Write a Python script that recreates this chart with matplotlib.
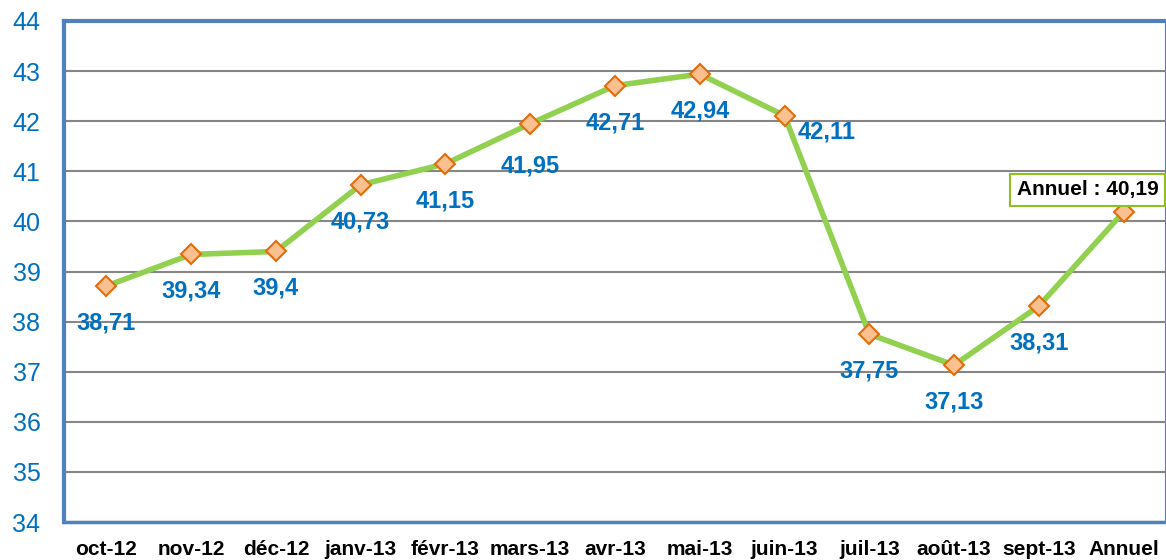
import matplotlib
matplotlib.use("Agg")
import matplotlib.pyplot as plt

plt.rcParams['font.family'] = ['Liberation Sans', 'DejaVu Sans']

categories = ["oct-12", "nov-12", "déc-12", "janv-13", "févr-13", "mars-13", "avr-13",
              "mai-13", "juin-13", "juil-13", "août-13", "sept-13", "Annuel"]
values = [38.71, 39.34, 39.40, 40.73, 41.15, 41.95, 42.71, 42.94, 42.11, 37.75, 37.13, 38.31, 40.19]
labels = ["38,71", "39,34", "39,4", "40,73", "41,15", "41,95", "42,71", "42,94", "42,11",
          "37,75", "37,13", "38,31", None]
yticks = [34, 35, 36, 37, 38, 39, 40, 41, 42, 43, 44]

W, H = 1166, 560
fig = plt.figure(figsize=(W / 100, H / 100), dpi=100)
ax = fig.add_axes([64 / W, 1 - 522 / H, (1166 - 64) / W, (522 - 21) / H])

x = list(range(len(categories)))
ax.set_xlim(-0.5, len(categories) - 0.5)
ax.set_ylim(34, 44)
ax.set_yticks(yticks)
ax.set_yticklabels([str(t) for t in yticks], color="#0070C0", fontsize=18)
ax.set_xticks(x)
ax.set_xticklabels(categories, fontsize=15, fontweight="bold", color="black")
ax.tick_params(axis="both", length=0)
ax.tick_params(axis="x", pad=13)
ax.tick_params(axis="y", pad=17)

ax.grid(axis="y", color="#868686", linewidth=1.5)
ax.set_axisbelow(True)

for s in ["left", "top"]:
    ax.spines[s].set_color("#4F81BD")
    ax.spines[s].set_linewidth(3)
ax.spines["bottom"].set_color("#4F81BD")
ax.spines["bottom"].set_linewidth(2.5)
ax.spines["right"].set_color("#4F81BD")
ax.spines["right"].set_linewidth(1.5)

ax.plot(x, values, color="#92D050", linewidth=4, marker="D", markersize=10,
        markerfacecolor="#FAC090", markeredgecolor="#E46C0A", markeredgewidth=1.5, zorder=3)

for i, (v, lab) in enumerate(zip(values, labels)):
    if lab is None:
        continue
    if categories[i] == "juin-13":
        off = (42, -16)
    elif categories[i] == "mars-13":
        off = (0, -42)
    else:
        off = (0, -37)
    ax.annotate(lab, (i, v), xytext=off, textcoords="offset pixels",
                ha="center", va="center", color="#0070C0", fontsize=17, fontweight="bold")

ax.annotate("Annuel : 40,19", (12, values[12]), xytext=(-36, 22), textcoords="offset pixels",
            ha="center", va="center", color="black", fontsize=15, fontweight="bold",
            bbox=dict(boxstyle="square,pad=0.3", facecolor="white", edgecolor="#8DC21F", linewidth=1.5),
            zorder=5)

fig.savefig("out.png", dpi=100)
